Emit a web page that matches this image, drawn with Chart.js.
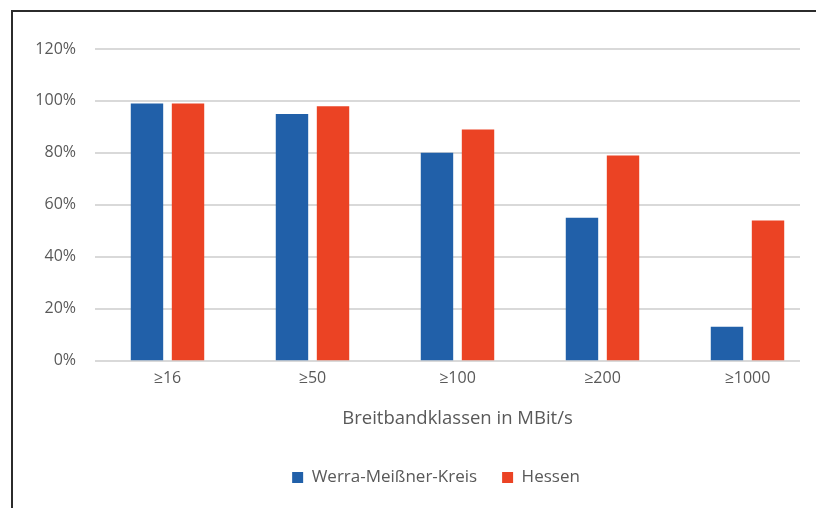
<!DOCTYPE html>
<html><head><meta charset="utf-8">
<script src="https://cdn.jsdelivr.net/npm/chart.js@4/dist/chart.umd.min.js"></script>
<style>html,body{margin:0;padding:0;background:#fff;overflow:hidden;}#wrap{width:816px;height:508px;position:relative;overflow:hidden;}</style>
</head><body><div id="wrap"><canvas id="c" width="820" height="508"></canvas></div>
<script>
const categories = ['≥16', '≥50', '≥100', '≥200', '≥1000'];
const werraMeissner = [99, 95, 80, 55, 13];
const hessen = [99, 98, 89, 79, 54];
const yTicks = [0, 20, 40, 60, 80, 100, 120];
const seriesNames = ['Werra-Meißner-Kreis', 'Hessen'];
const axisTitle = 'Breitbandklassen in MBit/s';

const frame = {
  id: 'frame',
  afterLayout(chart) {
    chart.legend.left += 26;
    chart.legend.right += 26;
  },
  beforeDatasetsDraw(chart) {
    const ctx = chart.ctx, y = chart.scales.y;
    ctx.save();
    ctx.strokeStyle = '#d9d9d9';
    ctx.lineWidth = 2;
    yTicks.forEach(v => {
      const py = Math.round(y.getPixelForValue(v));
      ctx.beginPath();
      ctx.moveTo(95, py);
      ctx.lineTo(800, py);
      ctx.stroke();
    });
    ctx.restore();
  },
  afterDraw(chart) {
    const ctx = chart.ctx;
    ctx.save();
    ctx.strokeStyle = '#2b2b2b';
    ctx.lineWidth = 2;
    ctx.beginPath();
    ctx.moveTo(12, 508);
    ctx.lineTo(12, 11);
    ctx.lineTo(820, 11);
    ctx.stroke();
    ctx.restore();
  }
};

Chart.defaults.font.family = "'Open Sans', 'Liberation Sans', sans-serif";
new Chart(document.getElementById('c'), {
  type: 'bar',
  data: {
    labels: categories,
    datasets: [
      { label: seriesNames[0], data: werraMeissner, backgroundColor: '#2160A9', categoryPercentage: 0.566, barPercentage: 0.79 },
      { label: seriesNames[1], data: hessen, backgroundColor: '#EB4324', categoryPercentage: 0.566, barPercentage: 0.79 }
    ]
  },
  options: {
    responsive: false,
    animation: false,
    layout: { padding: { left: 0, right: 0, top: 49, bottom: 12 } },
    plugins: {
      legend: {
        position: 'bottom',
        labels: { color: '#595959', font: { size: 17 }, boxWidth: 11, boxHeight: 11, padding: 25 }
      },
      tooltip: { enabled: false }
    },
    scales: {
      x: {
        grid: { display: false, drawTicks: false },
        border: { display: false },
        ticks: { color: '#595959', font: { size: 16 }, padding: 8 },
        title: { display: true, text: axisTitle, color: '#595959', font: { size: 18.5 }, padding: { top: 12, bottom: 14 } }
      },
      y: {
        min: 0, max: 120,
        afterFit(scale) { scale.width = 95; },
        afterBuildTicks(scale) { scale.ticks = yTicks.map(v => ({ value: v })); },
        grid: { display: false, drawTicks: false },
        border: { display: false },
        ticks: { color: '#595959', font: { size: 16 }, padding: 19, callback: v => v + '%' }
      }
    }
  },
  plugins: [frame]
});
</script></body></html>
